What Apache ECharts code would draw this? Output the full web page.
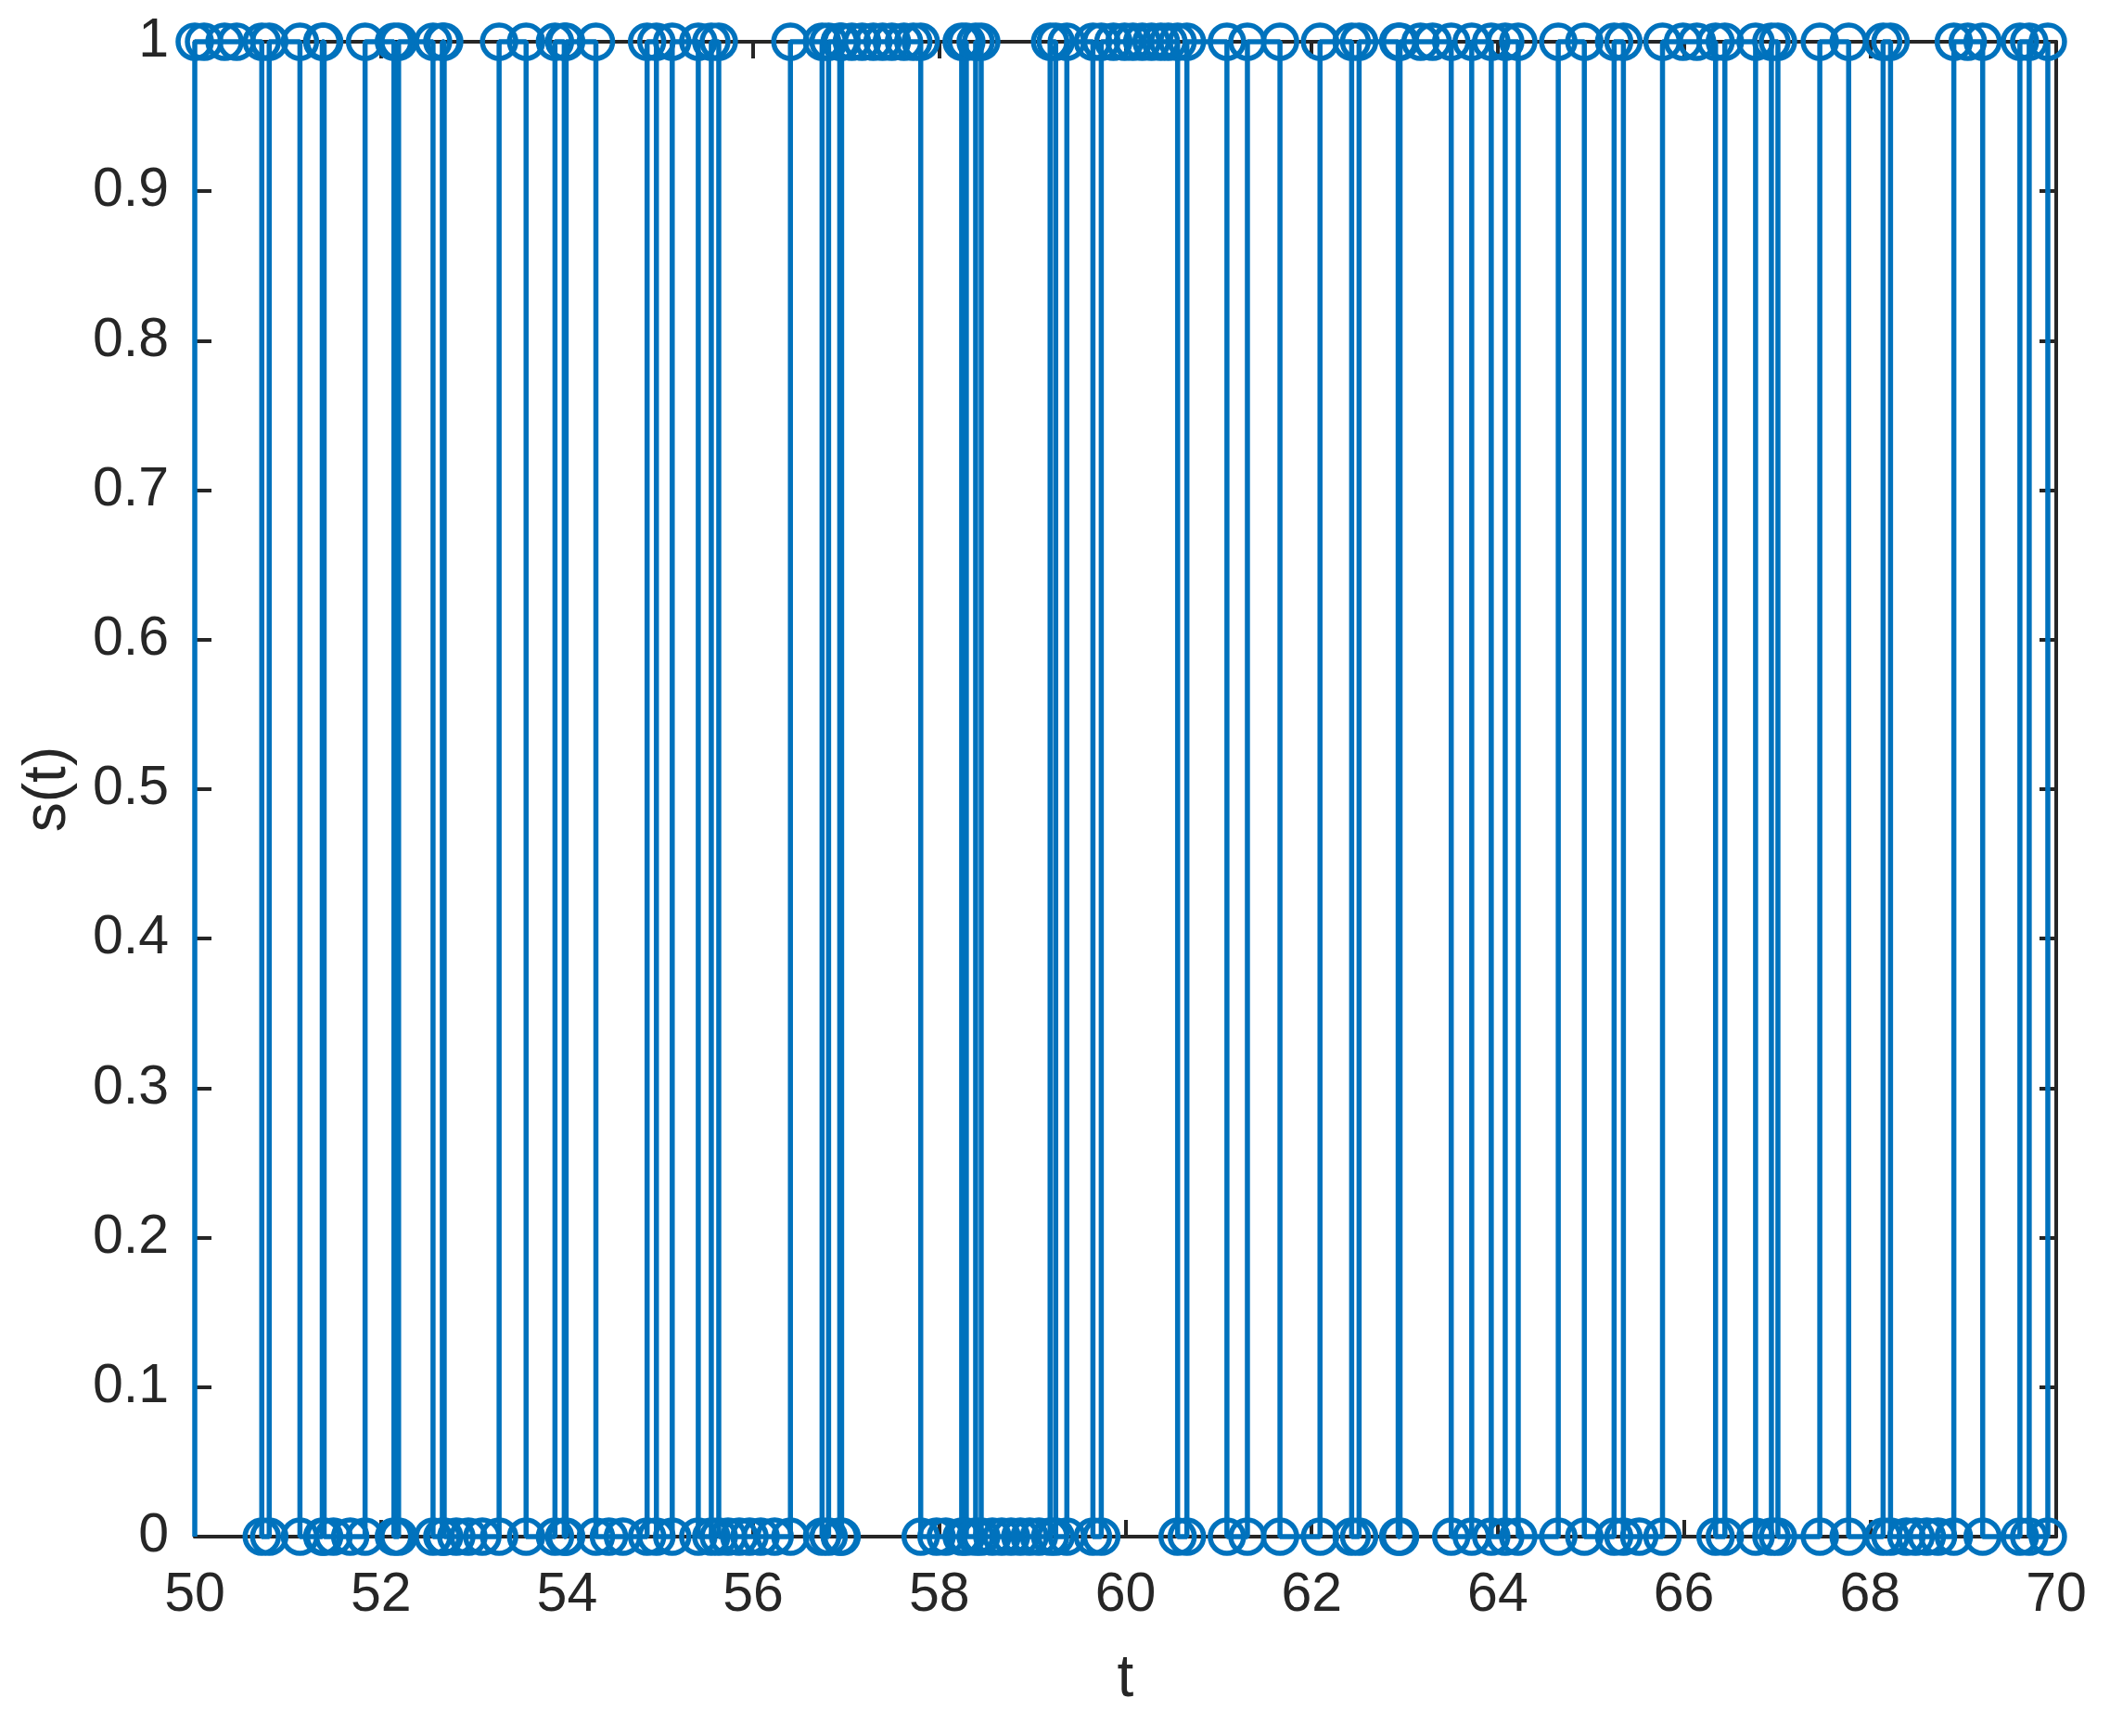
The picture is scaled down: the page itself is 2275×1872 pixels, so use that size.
<!DOCTYPE html>
<html>
<head>
<meta charset="utf-8">
<title>s(t)</title>
<script src="https://cdn.jsdelivr.net/npm/echarts@6/dist/echarts.min.js"></script>
<style>
html, body { margin: 0; padding: 0; background: #fff; }
#chart { width: 2275px; height: 1872px; }
</style>
</head>
<body>
<div id="chart"></div>
<script>
// event times (t) and the state s(t) after each event
const eventTimes = [
  50.00, 50.10, 50.32, 50.45, 50.72, 50.80, 51.13, 51.37, 51.39, 51.49,
  51.67, 51.83, 52.14, 52.19, 52.56, 52.66, 52.68, 52.81, 52.94, 53.09,
  53.27, 53.56, 53.87, 53.97, 53.99, 54.31, 54.45, 54.60, 54.86, 54.96,
  55.13, 55.41, 55.55, 55.63, 55.73, 55.85, 55.96, 56.08, 56.23, 56.40,
  56.74, 56.81, 56.93, 56.95, 57.06, 57.17, 57.29, 57.39, 57.49, 57.62,
  57.72, 57.80, 57.97, 58.07, 58.24, 58.29, 58.39, 58.45, 58.57, 58.67,
  58.77, 58.87, 58.97, 59.07, 59.19, 59.25, 59.37, 59.65, 59.74, 59.87,
  59.99, 60.08, 60.18, 60.28, 60.38, 60.46, 60.56, 60.66, 61.09, 61.31,
  61.66, 62.09, 62.43, 62.51, 62.93, 62.95, 63.17, 63.30, 63.50, 63.72,
  63.93, 64.08, 64.22, 64.65, 64.93, 65.25, 65.35, 65.52, 65.77, 65.99,
  66.14, 66.34, 66.44, 66.77, 66.94, 67.01, 67.46, 67.77, 68.14, 68.22,
  68.39, 68.49, 68.61, 68.73, 68.90, 69.05, 69.21, 69.61, 69.71, 69.91
];
const eventStates = [
  1, 1, 1, 1, 0, 1, 0, 1, 0, 0,
  0, 1, 0, 1, 0, 1, 0, 0, 0, 0,
  1, 0, 1, 0, 1, 0, 0, 0, 1, 0,
  1, 0, 1, 0, 0, 0, 0, 0, 0, 1,
  0, 1, 0, 1, 1, 1, 1, 1, 1, 1,
  1, 0, 0, 0, 1, 0, 1, 0, 0, 0,
  0, 0, 0, 0, 1, 0, 1, 0, 1, 1,
  1, 1, 1, 1, 1, 1, 0, 1, 0, 1,
  0, 1, 0, 1, 0, 1, 1, 1, 0, 1,
  0, 1, 0, 1, 0, 1, 0, 0, 1, 1,
  1, 0, 1, 0, 1, 0, 1, 0, 1, 0,
  0, 0, 0, 0, 1, 1, 0, 1, 0, 1
];
const startState = 0;

const blue = '#0072BD';
const ink = '#262626';
const font = 'Liberation Sans, Arial, Helvetica, sans-serif';

// stairs vertices: each event gives a corner at the old level and one at the new level
const verts = [];
let prev = startState;
eventTimes.forEach((t, i) => {
  const s = eventStates[i];
  if (i === 0) {
    verts.push({ value: [t, prev], symbol: 'none' });
  } else if (s !== prev) {
    verts.push([t, prev]);
  }
  verts.push([t, s]);
  prev = s;
});

const chart = echarts.init(document.getElementById('chart'));

const baseX = {
  type: 'value', min: 50, max: 70, interval: 2,
  axisLine: { show: true, onZero: false, lineStyle: { color: ink, width: 4 } },
  axisTick: { show: true, inside: true, length: 18, lineStyle: { color: ink, width: 4 } },
  splitLine: { show: false }
};
const baseY = {
  type: 'value', min: 0, max: 1, interval: 0.1,
  axisLine: { show: true, onZero: false, lineStyle: { color: ink, width: 4 } },
  axisTick: { show: true, inside: true, length: 18, lineStyle: { color: ink, width: 4 } },
  splitLine: { show: false }
};

const option = {
  backgroundColor: '#fff',
  animation: false,
  grid: { left: 210, right: 58, top: 45, bottom: 215, containLabel: false },
  xAxis: [
    Object.assign({}, baseX, {
      position: 'bottom',
      name: 't', nameLocation: 'middle', nameGap: 122,
      nameTextStyle: { color: ink, fontSize: 64, fontFamily: font },
      axisLabel: { color: ink, fontSize: 59, fontFamily: font, margin: 34 }
    }),
    Object.assign({}, baseX, { position: 'top', axisLabel: { show: false } })
  ],
  yAxis: [
    Object.assign({}, baseY, {
      position: 'left',
      name: 's(t)', nameLocation: 'middle', nameGap: 126,
      nameTextStyle: { color: ink, fontSize: 64, fontFamily: font },
      axisLabel: {
        color: ink, fontSize: 59, fontFamily: font, margin: 28,
        formatter: v => String(Math.round(v * 10) / 10)
      }
    }),
    Object.assign({}, baseY, { position: 'right', axisLabel: { show: false } })
  ],
  series: [{
    type: 'line',
    data: verts,
    xAxisIndex: 0, yAxisIndex: 0,
    symbol: 'circle',
    symbolSize: 36,
    showAllSymbol: true,
    clip: false,
    lineStyle: { color: blue, width: 5.5 },
    itemStyle: { color: 'rgba(0,0,0,0)', borderColor: blue, borderWidth: 5.5 },
    emphasis: { disabled: true },
    z: 3
  }]
};

chart.setOption(option);
</script>
</body>
</html>
